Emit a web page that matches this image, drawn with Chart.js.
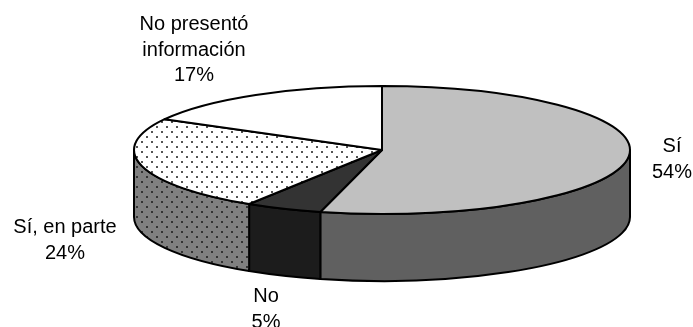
<!DOCTYPE html>
<html>
<head>
<meta charset="utf-8">
<script src="https://cdn.jsdelivr.net/npm/chart.js@4/dist/chart.umd.min.js"></script>
<style>
  html, body { margin: 0; padding: 0; background: #ffffff; }
  canvas { display: block; }
</style>
</head>
<body>
<canvas id="chart" width="693" height="327"></canvas>
<script>
// Categories (each label split into the lines it is printed on) and their shares in percent
const categories = [['Sí'], ['No'], ['Sí, en parte'], ['No presentó', 'información']];
const shares = [54, 5, 24, 17];

// Slice styling: top face and outer wall
const topColors = ['#c0c0c0', '#333333', 'dots-light', '#ffffff'];
const wallColors = ['#606060', '#1c1c1c', 'dots-dark', '#d0d0d0'];

// Ellipse geometry of the tilted pie
const PIE = { cx: 382, cy: 150, rx: 248, ry: 64, depth: 67 };
// Where each label block sits: centre x, first baseline y
const LABEL_ANCHORS = [[672, 152], [266, 302], [65, 233], [194, 30]];
const LINE_HEIGHT = 25.5;
const FONT = '20px "Liberation Sans", Arial, sans-serif';

function dotPattern(ctx, bg, dot) {
  const t = document.createElement('canvas');
  t.width = 10; t.height = 10;
  const g = t.getContext('2d');
  g.fillStyle = bg; g.fillRect(0, 0, 10, 10);
  g.fillStyle = dot;
  g.fillRect(1, 1, 2, 2);
  g.fillRect(6, 6, 2, 2);
  return ctx.createPattern(t, 'repeat');
}

function resolveFill(ctx, spec) {
  if (spec === 'dots-light') return dotPattern(ctx, '#ffffff', '#555555');
  if (spec === 'dots-dark') return dotPattern(ctx, '#808080', '#333333');
  return spec;
}

const pie3d = {
  id: 'pie3d',
  beforeDatasetsDraw(chart) {
    const ctx = chart.ctx;
    const arcs = chart.getDatasetMeta(0).data;
    const { cx, cy, rx, ry, depth } = PIE;
    ctx.save();
    ctx.lineWidth = 2;
    ctx.strokeStyle = '#000000';
    ctx.lineJoin = 'round';

    // Outer walls: only the front half (angles 0..PI) faces the viewer
    arcs.forEach((arc, i) => {
      const a = Math.max(arc.startAngle, 0);
      const b = Math.min(arc.endAngle, Math.PI);
      if (a >= b) return;
      ctx.beginPath();
      ctx.ellipse(cx, cy, rx, ry, 0, a, b, false);
      ctx.lineTo(cx + rx * Math.cos(b), cy + depth + ry * Math.sin(b));
      ctx.ellipse(cx, cy + depth, rx, ry, 0, b, a, true);
      ctx.closePath();
      ctx.fillStyle = resolveFill(ctx, wallColors[i]);
      ctx.fill();
      ctx.stroke();
    });

    // Top faces
    arcs.forEach((arc, i) => {
      ctx.beginPath();
      ctx.moveTo(cx, cy);
      ctx.ellipse(cx, cy, rx, ry, 0, arc.startAngle, arc.endAngle, false);
      ctx.closePath();
      ctx.fillStyle = resolveFill(ctx, topColors[i]);
      ctx.fill();
      ctx.stroke();
    });
    ctx.restore();
    return false;
  },
  afterDraw(chart) {
    const ctx = chart.ctx;
    const values = chart.data.datasets[0].data;
    const total = values.reduce((s, v) => s + v, 0);
    ctx.save();
    ctx.font = FONT;
    ctx.fillStyle = '#000000';
    ctx.textAlign = 'center';
    ctx.textBaseline = 'alphabetic';
    chart.data.labels.forEach((lines, i) => {
      const pct = Math.round(values[i] / total * 100) + '%';
      const [x, y] = LABEL_ANCHORS[i];
      [...lines, pct].forEach((txt, k) => ctx.fillText(txt, x, y + k * LINE_HEIGHT));
    });
    ctx.restore();
  }
};

new Chart(document.getElementById('chart'), {
  type: 'pie',
  data: {
    labels: categories,
    datasets: [{ data: shares, borderWidth: 0 }]
  },
  options: {
    responsive: false,
    animation: false,
    events: [],
    plugins: { legend: { display: false }, tooltip: { enabled: false } }
  },
  plugins: [pie3d]
});
</script>
</body>
</html>
